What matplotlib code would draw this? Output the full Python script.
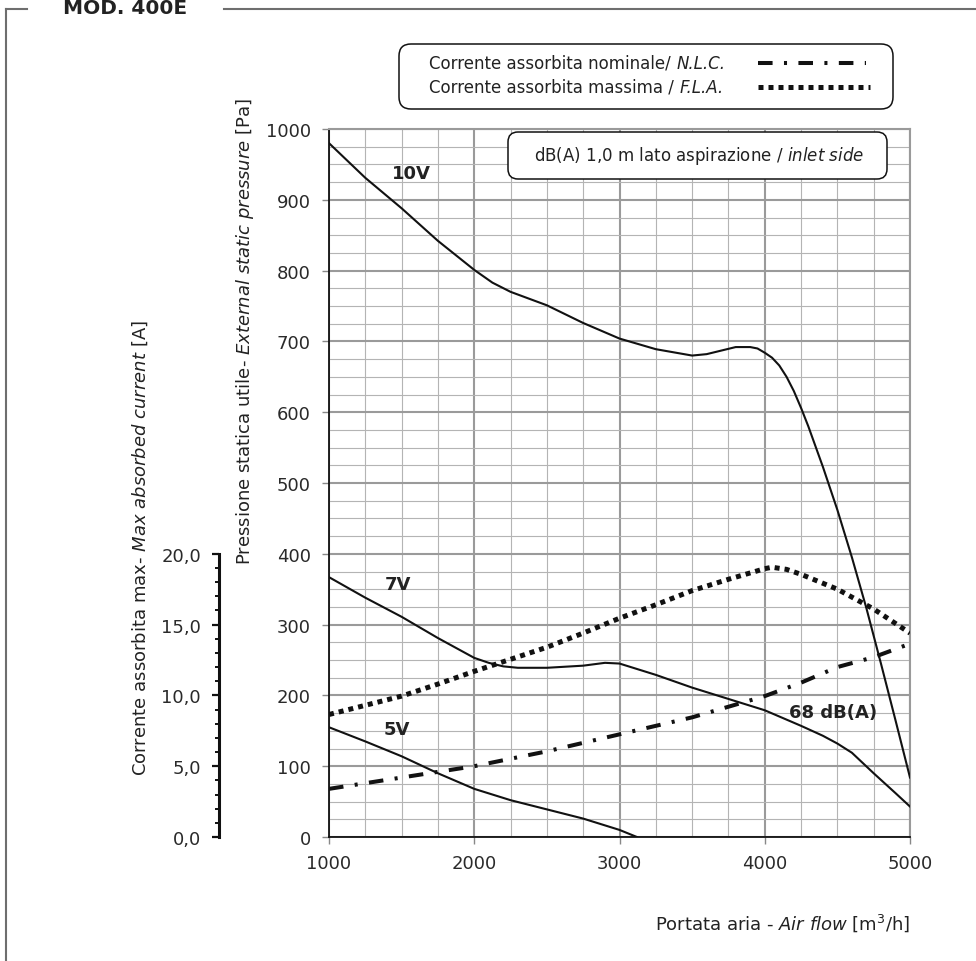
import matplotlib
matplotlib.use('Agg')
import matplotlib.pyplot as plt
from matplotlib.patches import FancyBboxPatch
from matplotlib.lines import Line2D
from matplotlib.ticker import MultipleLocator, FixedLocator

plt.rcParams['font.family'] = ['DejaVu Sans']
plt.rcParams['mathtext.fontset'] = 'dejavusans'
plt.rcParams['lines.scale_dashes'] = False

# ---------------- data ----------------
flow_10v = [1000, 1250, 1500, 1750, 2000, 2125, 2250, 2500, 2750, 3000, 3250, 3500, 3600, 3700,
            3800, 3900, 3950, 4000, 4050, 4100, 4150, 4200, 4250, 4300, 4400, 4500, 4600,
            4700, 4800, 4900, 5000]
pa_10v = [980, 931, 888, 842, 801, 783, 770, 751, 726, 704, 689, 680, 682, 687,
          692, 692, 690, 684, 677, 666, 650, 630, 606, 580, 523, 462, 395,
          323, 245, 165, 84]

flow_7v = [1000, 1250, 1500, 1750, 2000, 2100, 2200, 2300, 2500, 2750, 2900, 3000, 3250, 3500,
           3750, 4000, 4250, 4400, 4500, 4600, 4750, 4900, 5000]
pa_7v = [367, 338, 311, 281, 253, 246, 241, 239, 239, 242, 246, 245, 229, 211,
         195, 179, 157, 143, 132, 119, 90, 62, 43]

flow_5v = [1000, 1250, 1500, 1750, 2000, 2250, 2500, 2750, 3000, 3120]
pa_5v = [155, 135, 114, 90, 68, 52, 39, 26, 10, 0]

flow_fla = [1000, 1250, 1500, 1750, 2000, 2250, 2500, 2750, 3000, 3250, 3500, 3750,
            3900, 4000, 4050, 4150, 4250, 4500, 4750, 5000]
amp_fla = [8.65, 9.3, 9.95, 10.8, 11.7, 12.55, 13.4, 14.4, 15.45, 16.4, 17.4, 18.2,
           18.65, 18.95, 19.05, 18.9, 18.55, 17.5, 16.1, 14.4]

flow_nlc = [1000, 1500, 2000, 2500, 3000, 3500, 4000, 4250, 4500, 4750, 5000]
amp_nlc = [3.4, 4.2, 5.0, 6.05, 7.25, 8.45, 9.95, 10.9, 12.0, 12.7, 13.65]

x_ticks = [1000, 2000, 3000, 4000, 5000]
y_ticks = [0, 100, 200, 300, 400, 500, 600, 700, 800, 900, 1000]
amp_ticks = [0, 5, 10, 15, 20]
amp_labels = ['0,0', '5,0', '10,0', '15,0', '20,0']

curve_labels = ['10V', '7V', '5V', '68 dB(A)']
curve_label_x = [1565, 1475, 1468, 4470]
curve_label_y = [938, 357, 152, 176]

legend_rows = [('Corrente assorbita nominale/', 'N.L.C.'),
               ('Corrente assorbita massima /', 'F.L.A.')]

# ---------------- figure ----------------
W, H = 976, 962
fig = plt.figure(figsize=(W / 100, H / 100), dpi=100)
fig.patch.set_facecolor('white')
renderer = fig.canvas.get_renderer()

ax = fig.add_axes([329 / W, (H - 838) / H, (910 - 329) / W, (838 - 130) / H])
ax.set_xlim(1000, 5000)
ax.set_ylim(0, 1000)
ax.set_xticks(x_ticks)
ax.set_yticks(y_ticks)
ax.xaxis.set_minor_locator(MultipleLocator(250))
ax.yaxis.set_minor_locator(MultipleLocator(25))
ax.grid(which='major', color='#9a9a9a', lw=1.5)
ax.grid(which='minor', color='#b4b4b4', lw=0.8)
ax.set_axisbelow(True)
ax.tick_params(which='major', length=5, width=1, color='#888888', labelsize=13,
               labelcolor='#2a2a2a')
ax.tick_params(axis='y', which='major', pad=8)
ax.tick_params(axis='x', which='major', pad=7)
ax.tick_params(which='minor', length=0)
for s in ['left', 'bottom']:
    ax.spines[s].set_color('#111111')
    ax.spines[s].set_linewidth(1.3)
for s in ['top', 'right']:
    ax.spines[s].set_color('#9a9a9a')
    ax.spines[s].set_linewidth(1.5)

line_kw = dict(color='#111111', lw=1.5, zorder=4, solid_joinstyle='round')
ax.plot(flow_10v, pa_10v, **line_kw)
ax.plot(flow_7v, pa_7v, **line_kw)
ax.plot(flow_5v, pa_5v, **line_kw)

for t, xx, yy in zip(curve_labels, curve_label_x, curve_label_y):
    ax.text(xx, yy, t, fontsize=13, fontweight='bold', color='#222222',
            ha='center', va='center', zorder=6)

# ---------------- current axis ----------------
ax2 = ax.twinx()
ax2.set_ylim(0, 50)
for s in ['top', 'bottom', 'right']:
    ax2.spines[s].set_visible(False)
ax2.spines['left'].set_visible(True)
ax2.spines['left'].set_position(('outward', 79.2))
ax2.spines['left'].set_bounds(0, 20)
ax2.spines['left'].set_linewidth(2.2)
ax2.spines['left'].set_color('#111111')
ax2.yaxis.set_ticks_position('left')
ax2.yaxis.set_label_position('left')
ax2.set_yticks(amp_ticks)
ax2.set_yticklabels(amp_labels)
ax2.yaxis.set_minor_locator(FixedLocator([v for v in range(0, 21) if v % 5 != 0]))
ax2.tick_params(axis='y', which='major', length=5, width=1.6, color='#111111',
                labelsize=13, labelcolor='#2a2a2a', pad=8)
ax2.tick_params(axis='y', which='minor', length=3, width=1.4, color='#111111')

ax2.plot(flow_fla, amp_fla, color='#111111', lw=3.6, dashes=(3.6, 3.6),
         dash_capstyle='butt', zorder=5)
ax2.plot(flow_nlc, amp_nlc, color='#111111', lw=2.9, dashes=(10.5, 8.2, 2.2, 8.2),
         dash_capstyle='butt', zorder=5)

# ---------------- axis labels ----------------
fig.text(910 / W, (H - 923) / H,
         r'Portata aria - $\mathit{Air\ flow}$ [m$^{3}$/h]',
         fontsize=13, ha='right', va='center', color='#222222')
fig.text(245 / W, (H - 331) / H,
         r'Pressione statica utile- $\mathit{External\ static\ pressure}$ [Pa]',
         fontsize=13, rotation=90, ha='center', va='center', color='#222222')
fig.text(140 / W, (H - 548) / H,
         r'Corrente assorbita max- $\mathit{Max\ absorbed\ current}$ [A]',
         fontsize=13, rotation=90, ha='center', va='center', color='#222222')

# ---------------- boxes ----------------
tr = fig.dpi_scale_trans
leg_box = FancyBboxPatch((399 / 100, (H - 110) / 100), 494 / 100, 65 / 100,
                         boxstyle='round,pad=0,rounding_size=0.12',
                         transform=tr, facecolor='white', edgecolor='#111111',
                         lw=1.1, zorder=3)
fig.add_artist(leg_box)

fs_leg = 12
space_px = 0.318 * fs_leg * 100 / 72
for (plain, ital), base_y in zip(legend_rows, [69, 93]):
    t1 = fig.text(429 / W, 1 - base_y / H, plain, fontsize=fs_leg, ha='left',
                  va='baseline', color='#222222', zorder=4)
    bb = t1.get_window_extent(renderer)
    fig.text((bb.x1 + space_px) / W, 1 - base_y / H, ital, fontsize=fs_leg,
             style='italic', ha='left', va='baseline', color='#222222', zorder=4)

fig.add_artist(Line2D([758 / 100, 866 / 100], [(H - 64) / 100, (H - 64) / 100],
                      transform=tr, color='#111111', lw=2.9,
                      dashes=(10.5, 8.2, 2.2, 8.2), dash_capstyle='butt', zorder=4))
fig.add_artist(Line2D([758 / 100, 870 / 100], [(H - 88) / 100, (H - 88) / 100],
                      transform=tr, color='#111111', lw=3.6,
                      dashes=(3.6, 3.6), dash_capstyle='butt', zorder=4))

db_box = FancyBboxPatch((508 / 100, (H - 180) / 100), 379 / 100, 47 / 100,
                        boxstyle='round,pad=0,rounding_size=0.1',
                        transform=tr, facecolor='white', edgecolor='#111111',
                        lw=1.1, zorder=3)
fig.add_artist(db_box)
fig.text(699 / W, (H - 156) / H,
         r'dB(A) 1,0 m lato aspirazione / $\mathit{inlet\ side}$',
         fontsize=12, ha='center', va='center', color='#222222', zorder=4)

# ---------------- frame & title ----------------
frame_kw = dict(transform=tr, color='#6e6e6e', lw=1.5, zorder=2)
fig.add_artist(Line2D([0.06, 0.27], [(H - 10) / 100, (H - 10) / 100], **frame_kw))
fig.add_artist(Line2D([2.24, W / 100], [(H - 10) / 100, (H - 10) / 100], **frame_kw))
fig.add_artist(Line2D([0.06, 0.06], [(H - 10) / 100, 0], **frame_kw))
fig.text(125 / W, 1 - 14 / H, 'MOD. 400E', fontsize=14.5, fontweight='bold',
         ha='center', va='baseline', color='#222222')

fig.savefig('out.png', dpi=100, facecolor='white')
